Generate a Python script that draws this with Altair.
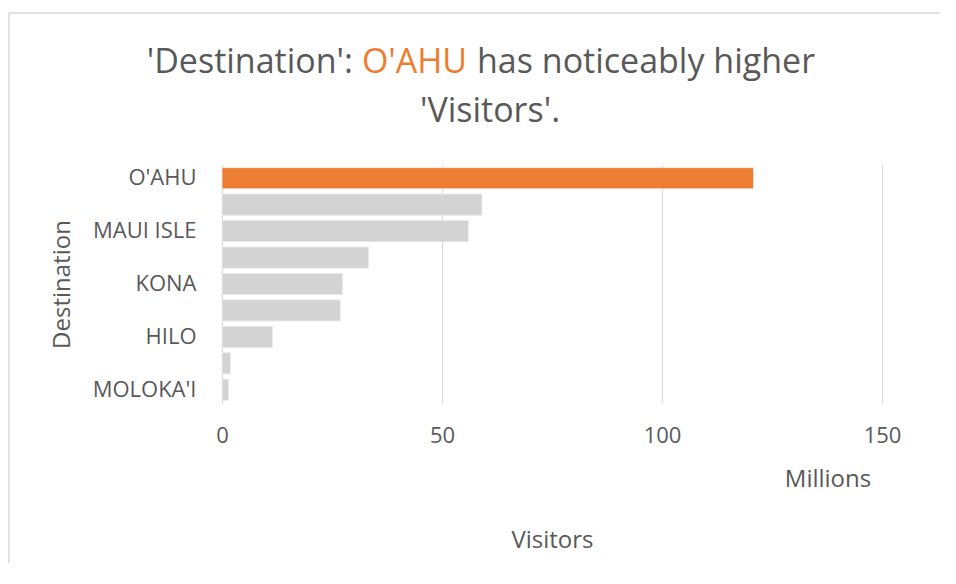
import altair as alt
import pandas as pd

destinations = ["O'AHU", "HONOLULU", "MAUI ISLE", "KAUA'I", "KONA", "KOHALA", "HILO", "LANA'I", "MOLOKA'I"]
visitors = [120.8, 59.1, 56.0, 33.3, 27.4, 26.9, 11.5, 1.9, 1.5]
shown_labels = ["O'AHU", "MAUI ISLE", "KONA", "HILO", "MOLOKA'I"]
x_ticks = [0, 50, 100, 150]

title_part1 = "'Destination':"
title_highlight = "O'AHU"
title_part3 = "has noticeably higher"
title_line2 = "'Visitors'."
units_label = "Millions"

FONT = "Open Sans"
GREY_TEXT = "#595959"
ORANGE = "#ED7D31"
BAR_GREY = "#D3D3D3"

df = pd.DataFrame({"Destination": destinations, "Visitors": visitors})
df["highlight"] = df["Destination"] == title_highlight

W, H = 660, 238

bars = alt.Chart(df).mark_bar(stroke="#ececec", strokeWidth=0.8).encode(
    y=alt.Y("Destination:N", sort=destinations,
            scale=alt.Scale(paddingInner=0.2, paddingOuter=0.1),
            axis=alt.Axis(values=shown_labels, ticks=False, domain=False, grid=False,
                          labelFont=FONT, labelFontSize=22, labelColor=GREY_TEXT,
                          labelPadding=26, title="Destination", titleFont=FONT,
                          titleFontSize=24, titleFontWeight="normal", titleColor=GREY_TEXT,
                          titleAngle=-90, titleX=-160, titleY=H / 2,
                          titleAlign="center", titleBaseline="middle")),
    x=alt.X("Visitors:Q", scale=alt.Scale(domain=[0, 150], nice=False),
            axis=alt.Axis(values=x_ticks, ticks=False, domain=False, grid=True,
                          gridColor="#D9D9D9", gridWidth=1.2, labelFlush=False,
                          labelFont=FONT, labelFontSize=22, labelColor=GREY_TEXT,
                          labelPadding=22, title="Visitors", titleFont=FONT,
                          titleFontSize=24, titleFontWeight="normal", titleColor=GREY_TEXT,
                          titleX=330, titleY=137, titleAlign="center",
                          titleBaseline="middle")),
    color=alt.condition(alt.datum.highlight, alt.value(ORANGE), alt.value(BAR_GREY)),
)

def txt(s, x, y, color, align, size=34):
    return alt.Chart(pd.DataFrame({"t": [s]})).mark_text(
        font=FONT, fontSize=size, color=color, align=align, baseline="middle"
    ).encode(x=alt.value(x), y=alt.value(y), text="t:N")

t1 = txt(title_part1, 131, -102, GREY_TEXT, "right")
t2 = txt(title_highlight, 192.5, -102, ORANGE, "center")
t3 = txt(title_part3, 255, -102, GREY_TEXT, "left")
t4 = txt(title_line2, 268, -53, GREY_TEXT, "center")
units = txt(units_label, 606, 315, GREY_TEXT, "center", size=24)

border_top = alt.Chart(pd.DataFrame({"a": [0]})).mark_rule(color="#D9D9D9", strokeWidth=1.5).encode(
    x=alt.value(-213), x2=alt.value(720), y=alt.value(-152))
border_left = alt.Chart(pd.DataFrame({"a": [0]})).mark_rule(color="#D9D9D9", strokeWidth=1.5).encode(
    x=alt.value(-213), y=alt.value(-152), y2=alt.value(420))

chart = alt.layer(border_top, border_left, bars, t1, t2, t3, t4, units).properties(
    width=W, height=H,
    background="white",
    autosize=alt.AutoSizeParams(type="none"),
    padding={"left": 214, "top": 157, "right": 58, "bottom": 160},
).configure_view(stroke=None)

chart.save("out.html", embed_options={"renderer": "svg", "actions": False})
